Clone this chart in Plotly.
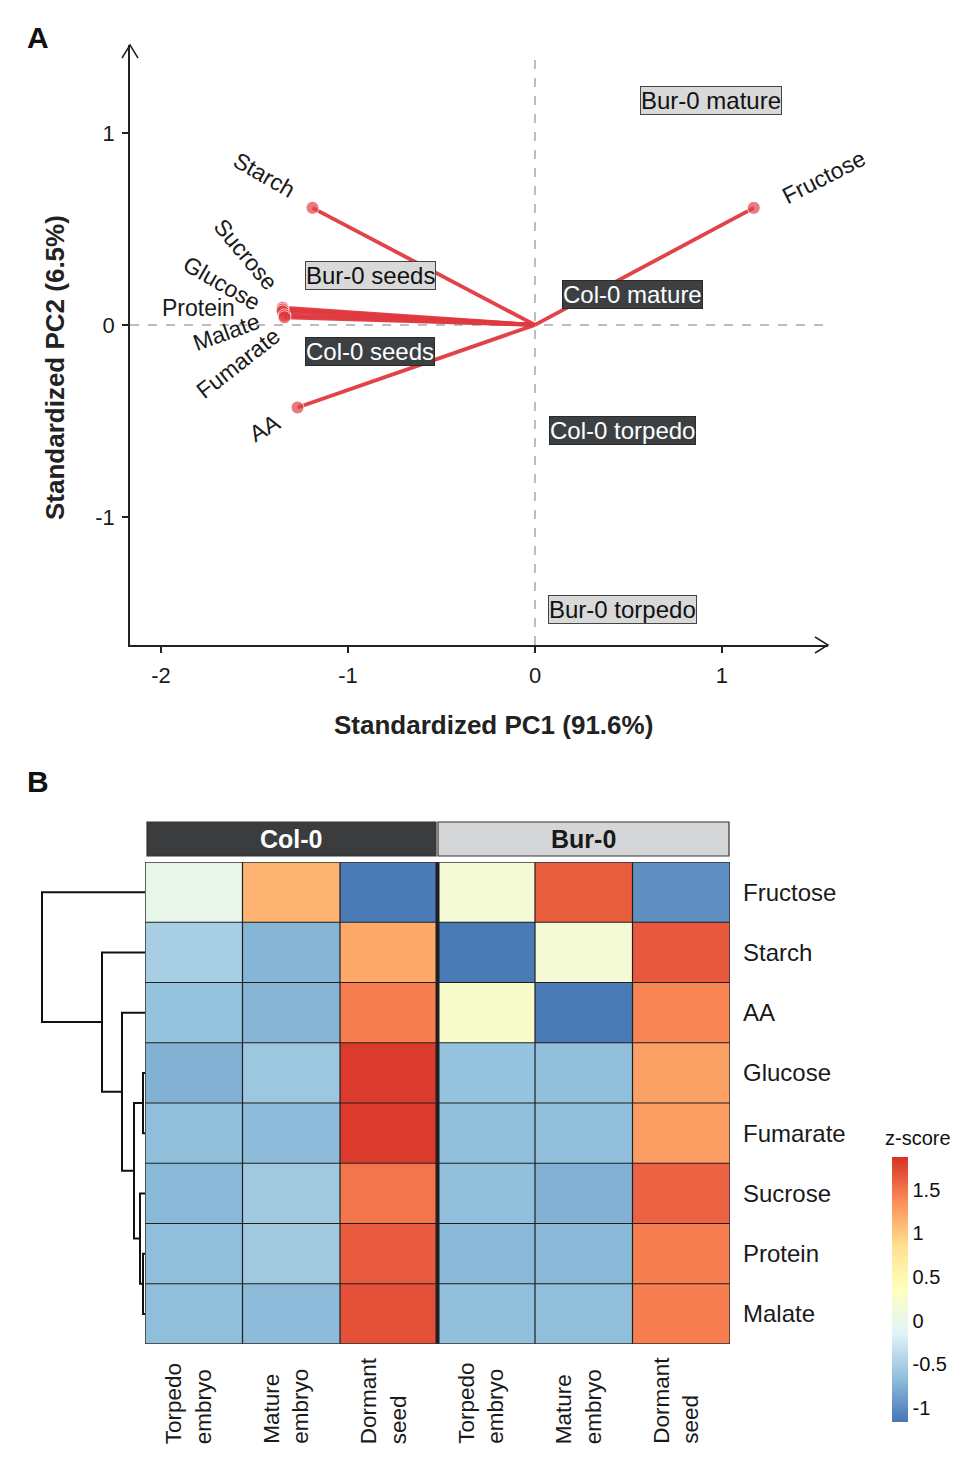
import plotly.graph_objects as go

W, H = 975, 1467
OFF = 8  # page body margin of the browser
FONT = "Liberation Sans, Arial, sans-serif"

# ---------------- Panel A data ----------------
variables = ["Starch", "Fructose", "Sucrose", "Glucose", "Protein", "Malate", "Fumarate", "AA"]
pc1_load = [-1.19, 1.17, -1.35, -1.35, -1.35, -1.34, -1.34, -1.27]
pc2_load = [0.61, 0.61, 0.09, 0.08, 0.07, 0.05, 0.04, -0.43]

samples = ["Bur-0 mature", "Bur-0 seeds", "Col-0 mature", "Col-0 seeds", "Col-0 torpedo", "Bur-0 torpedo"]
pc1_score = [0.94, -0.88, 0.52, -0.88, 0.47, 0.47]
pc2_score = [1.17, 0.26, 0.16, -0.14, -0.55, -1.48]
sample_genotype = ["Bur-0", "Bur-0", "Col-0", "Col-0", "Col-0", "Bur-0"]

x_ticks = [-2, -1, 0, 1]
y_ticks = [-1, 0, 1]

# ---------------- Panel B data ----------------
metabolites = ["Fructose", "Starch", "AA", "Glucose", "Fumarate", "Sucrose", "Protein", "Malate"]
genotypes = ["Col-0", "Bur-0"]
stages = ["Torpedo<br>embryo", "Mature<br>embryo", "Dormant<br>seed"]
zscore = [
    [-0.02, 1.14, -1.12, 0.16, 1.63, -0.99],  # Fructose
    [-0.51, -0.72, 1.20, -1.12, 0.16, 1.66],  # Starch
    [-0.62, -0.72, 1.45, 0.25, -1.12, 1.42],  # AA
    [-0.75, -0.58, 1.82, -0.62, -0.65, 1.25], # Glucose
    [-0.66, -0.68, 1.82, -0.66, -0.65, 1.27], # Fumarate
    [-0.70, -0.56, 1.50, -0.65, -0.75, 1.60], # Sucrose
    [-0.66, -0.56, 1.64, -0.70, -0.70, 1.45], # Protein
    [-0.66, -0.68, 1.70, -0.65, -0.66, 1.45], # Malate
]
z_min, z_max = -1.16, 1.875
cbar_ticks = [-1, -0.5, 0, 0.5, 1, 1.5]

# dendrogram merges: (left child, right child, height); leaves 0..7 follow metabolites order
dendro_merges = [
    (6, 7, 2),    # 8: Protein + Malate
    (3, 4, 2),    # 9: Glucose + Fumarate
    (5, 8, 5),    # 10
    (9, 10, 11),  # 11
    (2, 11, 23),  # 12
    (1, 12, 43),  # 13
    (0, 13, 103), # 14
]

# ---------------- styles ----------------
RED = "#e0393f"
label_style = {  # (xshift px, yshift px, angle)
    "Starch": (-48, 33, 30),
    "Fructose": (70, 31, -27),
    "Sucrose": (-37, 54, 50),
    "Glucose": (-61, 27, 30),
    "Protein": (-84, 4, 0),
    "Malate": (-58, -17, -20),
    "Fumarate": (-46, -46, -38),
    "AA": (-33, -20, -30),
}
box_style = {"Bur-0": ("#d9d9d9", "#111111", "#444444"),
             "Col-0": ("#3c4043", "#ffffff", "#2a2a2a")}


def px(xp):
    return (xp - OFF) / W


def py(yp):
    return 1 - (yp - OFF) / H


fig = go.Figure()

# ---------------- Panel A ----------------
xr = [-2.166, 1.567]
yr = [-1.667, 1.458]

for v, lx, ly in zip(variables, pc1_load, pc2_load):
    fig.add_trace(go.Scatter(
        x=[0, lx], y=[0, ly], mode="lines+markers",
        line=dict(color=RED, width=3.8),
        marker=dict(size=[0, 13], color=RED),
        opacity=0.95, xaxis="x", yaxis="y", showlegend=False, hoverinfo="skip"))

annotations = []
for v, lx, ly in zip(variables, pc1_load, pc2_load):
    dx, dy, ang = label_style[v]
    annotations.append(dict(x=lx, y=ly, xref="x", yref="y", text=v, showarrow=False,
                            xshift=dx, yshift=dy, textangle=ang,
                            xanchor="center", yanchor="middle",
                            font=dict(size=23, color="#1a1a1a", family=FONT)))

for s, sx, sy, g in zip(samples, pc1_score, pc2_score, sample_genotype):
    bg, fc, bc = box_style[g]
    annotations.append(dict(x=sx, y=sy, xref="x", yref="y", text=s, showarrow=False,
                            xanchor="center", yanchor="middle",
                            bgcolor=bg, bordercolor=bc, borderwidth=1, borderpad=0,
                            font=dict(size=24, color=fc, family=FONT)))

shapes = []
# dashed reference lines
shapes.append(dict(type="line", xref="x", yref="y", x0=0, x1=0, y0=yr[0], y1=1.40,
                   line=dict(color="#a8a8a8", width=1.5, dash="dash"), layer="below"))
shapes.append(dict(type="line", xref="x", yref="y", x0=xr[0], x1=1.57, y0=0, y1=0,
                   line=dict(color="#a8a8a8", width=1.5, dash="dash"), layer="below"))
# arrow heads of axes
shapes.append(dict(type="path", xref="paper", yref="paper",
                   path=f"M{px(122)},{py(58)} L{px(130)},{py(45)} L{px(138)},{py(58)}",
                   line=dict(color="#222222", width=1.5)))
shapes.append(dict(type="path", xref="paper", yref="paper",
                   path=f"M{px(815)},{py(637)} L{px(828)},{py(645)} L{px(815)},{py(653)}",
                   line=dict(color="#222222", width=1.5)))

CEN = dict(xref="paper", yref="paper", showarrow=False, xanchor="center", yanchor="middle")
# axis titles and panel letters
annotations.append(dict(x=px(493), y=py(725), text="<b>Standardized PC1 (91.6%)</b>",
                        font=dict(size=26, color="#222222", family=FONT), **CEN))
annotations.append(dict(x=px(55), y=py(368), text="<b>Standardized PC2 (6.5%)</b>", textangle=-90,
                        font=dict(size=26, color="#222222", family=FONT), **CEN))
annotations.append(dict(x=px(38), y=py(38), text="<b>A</b>",
                        font=dict(size=30, color="#111111", family=FONT), **CEN))
annotations.append(dict(x=px(38), y=py(782), text="<b>B</b>",
                        font=dict(size=30, color="#111111", family=FONT), **CEN))

# ---------------- Panel B ----------------
ncol = len(genotypes) * len(stages)
nrow = len(metabolites)
pheat = ["#4575b4", "#91bfdb", "#e0f3f8", "#ffffbf", "#fee090", "#fc8d59", "#d73027"]
cscale = [[i / (len(pheat) - 1), c] for i, c in enumerate(pheat)]

fig.add_trace(go.Heatmap(
    z=zscore, x=list(range(ncol)), y=list(range(nrow)),
    zmin=z_min, zmax=z_max, colorscale=cscale, xaxis="x2", yaxis="y2",
    hoverinfo="skip",
    colorbar=dict(x=px(892), xanchor="left", y=py(1422), yanchor="bottom",
                  xpad=0, ypad=0,
                  thickness=16, len=265, lenmode="pixels", outlinewidth=0,
                  tickvals=cbar_ticks, ticktext=[f"{t:g}" for t in cbar_ticks],
                  ticks="", ticklabelposition="outside",
                  tickfont=dict(size=20, color="#111111", family=FONT))))

# grid lines of heatmap
for i in range(1, ncol):
    w = 4 if i == len(stages) else 1.2
    shapes.append(dict(type="line", xref="x2", yref="y2", x0=i - 0.5, x1=i - 0.5,
                       y0=-0.5, y1=nrow - 0.5, line=dict(color="#1f1f1f", width=w)))
for j in range(1, nrow):
    shapes.append(dict(type="line", xref="x2", yref="y2", x0=-0.5, x1=ncol - 0.5,
                       y0=j - 0.5, y1=j - 0.5, line=dict(color="#1f1f1f", width=1.2)))
shapes.append(dict(type="rect", xref="x2", yref="y2", x0=-0.5, x1=ncol - 0.5,
                   y0=-0.5, y1=nrow - 0.5, line=dict(color="#333333", width=1.5)))

# header bars
hdr = {"Col-0": (147, 436, "#3a3c3e", "#ffffff"), "Bur-0": (438, 729, "#d4d6d8", "#1a1a1a")}
for g in genotypes:
    x0, x1, bg, fc = hdr[g]
    shapes.append(dict(type="rect", xref="paper", yref="paper", x0=px(x0), x1=px(x1),
                       y0=py(856), y1=py(822), fillcolor=bg, line=dict(color="#333333", width=1.2)))
    annotations.append(dict(x=px((x0 + x1) / 2), y=py(839), text=f"<b>{g}</b>",
                            font=dict(size=25, color=fc, family=FONT), **CEN))

# column labels
col_labels = stages * len(genotypes)
for i, lab in enumerate(col_labels):
    annotations.append(dict(x=i, y=py(1446), xref="x2", yref="paper", text=lab,
                            showarrow=False, textangle=-90, align="left",
                            xanchor="center", yanchor="bottom", xshift=-6,
                            font=dict(size=22.5, color="#1a1a1a", family=FONT)))

# colorbar title
annotations.append(dict(x=px(918), y=py(1138), text="z-score",
                        font=dict(size=20, color="#111111", family=FONT), **CEN))

# dendrogram
pos = {i: (0.0, float(i)) for i in range(nrow)}  # node -> (height, y)
dx, dy = [], []
node = nrow
for a, b, h in dendro_merges:
    ha, ya = pos[a]
    hb, yb = pos[b]
    dx += [ha, h, h, hb, None]
    dy += [ya, ya, yb, yb, None]
    pos[node] = (h, (ya + yb) / 2)
    node += 1
fig.add_trace(go.Scatter(x=dx, y=dy, mode="lines", line=dict(color="#111111", width=2),
                         xaxis="x3", yaxis="y3", showlegend=False, hoverinfo="skip"))

fig.update_layout(
    width=W, height=H, margin=dict(l=0, r=0, t=0, b=0),
    paper_bgcolor="white", plot_bgcolor="white", showlegend=False,
    font=dict(family=FONT, color="#1a1a1a"),
    xaxis=dict(domain=[px(130), px(828)], range=xr, anchor="y",
               showline=True, linecolor="#222222", linewidth=1.5, showgrid=False,
               zeroline=False, tickvals=x_ticks, ticktext=[str(t) for t in x_ticks],
               ticks="outside", ticklen=6, ticklabelstandoff=4,
               tickcolor="#222222", tickwidth=1.5,
               tickfont=dict(size=22, color="#1a1a1a", family=FONT)),
    yaxis=dict(domain=[py(645), py(45)], range=yr, anchor="x",
               showline=True, linecolor="#222222", linewidth=1.5, showgrid=False,
               zeroline=False, tickvals=y_ticks, ticktext=[str(t) for t in y_ticks],
               ticks="outside", ticklen=6, ticklabelstandoff=3,
               tickcolor="#222222", tickwidth=1.5,
               tickfont=dict(size=22, color="#1a1a1a", family=FONT)),
    xaxis2=dict(domain=[px(145), px(730)], range=[-0.5, ncol - 0.5], anchor="y2",
                showticklabels=False, showgrid=False, zeroline=False, ticks=""),
    yaxis2=dict(domain=[py(1344), py(862)], range=[nrow - 0.5, -0.5], anchor="x2",
                side="right", tickvals=list(range(nrow)), ticktext=metabolites,
                ticks="", showgrid=False, zeroline=False, ticklabelstandoff=12,
                tickfont=dict(size=24, color="#1a1a1a", family=FONT)),
    xaxis3=dict(domain=[px(40), px(145)], range=[105, 0], anchor="y3",
                visible=False),
    yaxis3=dict(domain=[py(1344), py(862)], range=[nrow - 0.5, -0.5], anchor="x3",
                visible=False),
    shapes=shapes, annotations=annotations,
)

fig.write_html("out.html")
